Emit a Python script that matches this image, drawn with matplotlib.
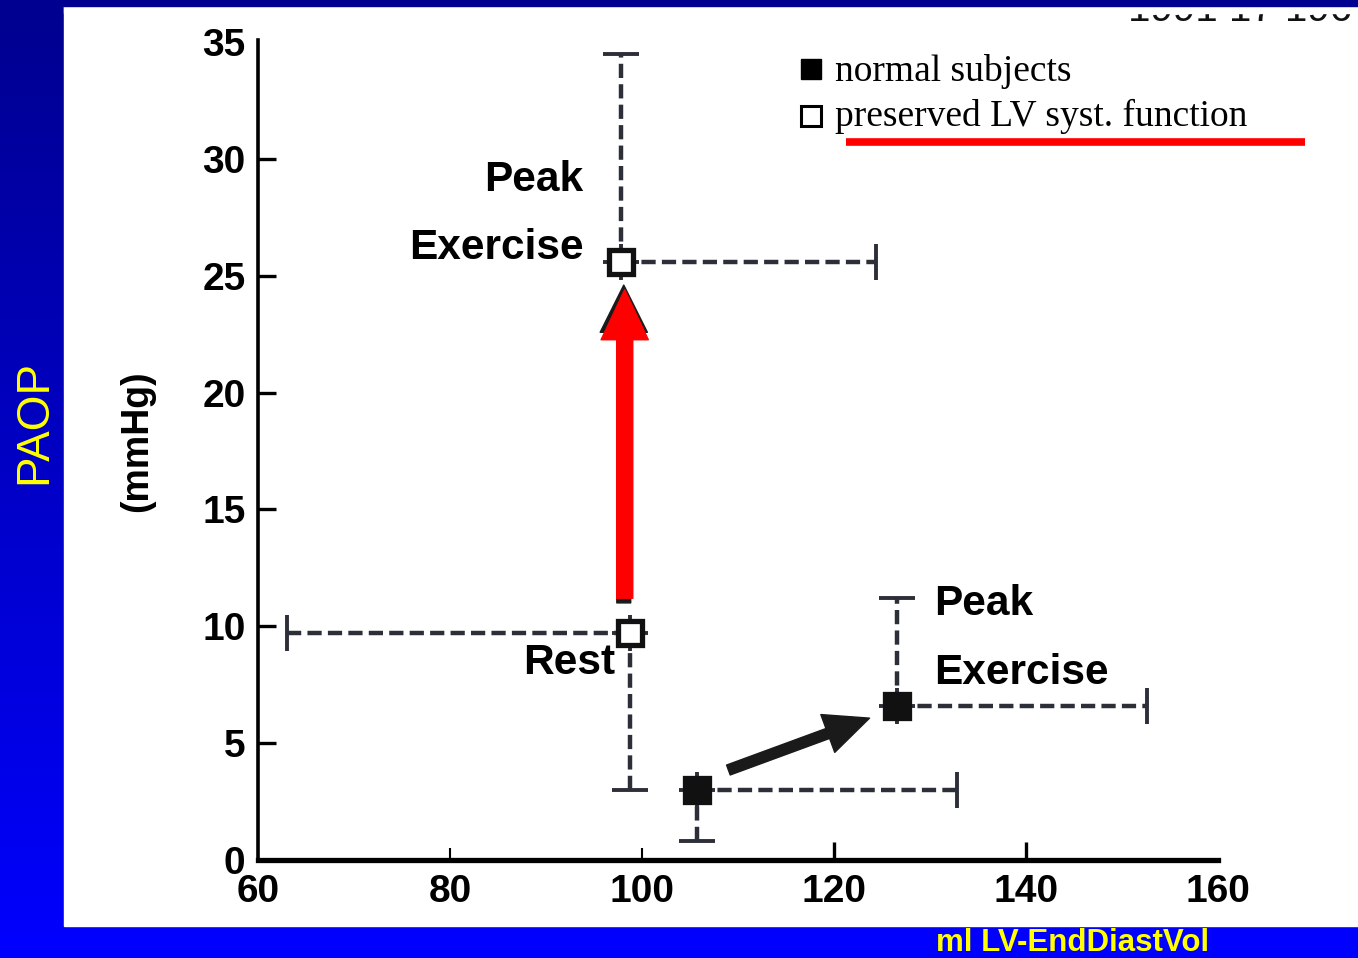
import numpy as np
import matplotlib.pyplot as plt
from matplotlib.patches import Rectangle, FancyArrowPatch

# LV end-diastolic volume (ml) vs PAOP (mmHg), rest and peak exercise
pres_x = [98.8, 97.8]
pres_y = [9.7, 25.6]
pres_xerr_lo = [35.8, 0.0]
pres_xerr_hi = [0.0, 26.6]
pres_yerr_lo = [6.7, 0.0]
pres_yerr_hi = [0.0, 8.9]

norm_x = [105.7, 126.6]
norm_y = [3.0, 6.6]
norm_xerr_lo = [0.0, 0.0]
norm_xerr_hi = [27.1, 26.0]
norm_yerr_lo = [2.2, 0.0]
norm_yerr_hi = [0.0, 4.6]

x_ticks = [60, 80, 100, 120, 140, 160]
y_ticks = [0, 5, 10, 15, 20, 25, 30, 35]

W, H = 1358, 958
fig = plt.figure(figsize=(W / 100, H / 100), dpi=100)

# slide background: dark-to-bright blue gradient with a white panel
bg = fig.add_axes([0, 0, 1, 1], zorder=-10)
grad = np.linspace(0, 1, 256)
cols = np.zeros((256, 1, 3))
cols[:, 0, 2] = 0.56 + 0.44 * grad
bg.imshow(cols, aspect='auto', extent=[0, W, H, 0])
bg.add_patch(Rectangle((64, 6), W - 64, 920, color='white'))
bg.set_xlim(0, W)
bg.set_ylim(H, 0)
bg.axis('off')

sans = ['Liberation Sans', 'DejaVu Sans']
serif = ['Liberation Serif', 'DejaVu Serif']

ax = fig.add_axes([258 / W, 1 - 860 / H, 960 / W, 818 / H])
ax.set_xlim(60, 160)
ax.set_ylim(0, 35)
ax.patch.set_alpha(0)
for s in ['top', 'right']:
    ax.spines[s].set_visible(False)
ax.spines['left'].set_linewidth(2.6)
ax.spines['bottom'].set_linewidth(3.8)
ax.spines['left'].set_bounds(0, 35.1)
ax.set_xticks(x_ticks)
ax.set_yticks(y_ticks)
ax.tick_params(direction='in', length=13, width=2.4, pad=9)
ax.tick_params(axis='x', pad=10)
for lbl in ax.get_xticklabels() + ax.get_yticklabels():
    lbl.set_fontfamily(sans)
    lbl.set_fontweight('bold')
    lbl.set_fontsize(28)
for t in [ax.xaxis.get_major_ticks()[0], ax.xaxis.get_major_ticks()[-1],
          ax.yaxis.get_major_ticks()[0], ax.yaxis.get_major_ticks()[-1]]:
    t.tick1line.set_visible(False)
# thinner marks at 80 and 100
for t in ax.xaxis.get_major_ticks()[1:3]:
    t.tick1line.set_markersize(9)
    t.tick1line.set_markeredgewidth(1.5)

bar_col = '#2c2f38'


def draw_group(x, y, xlo, xhi, ylo, yhi, face):
    eb = ax.errorbar(x, y, xerr=[xlo, xhi], yerr=[ylo, yhi], fmt='none',
                     ecolor=bar_col, elinewidth=3.2, capsize=13, capthick=2.8,
                     zorder=3)
    for c in eb[2]:
        c.set_linestyle((0, (3.2, 1.4)))
    ax.plot(x, y, 's', ms=17, mfc=face, mec='#111111', mew=3.8, zorder=5,
            clip_on=False)


draw_group(pres_x, pres_y, pres_xerr_lo, pres_xerr_hi, pres_yerr_lo, pres_yerr_hi, 'white')
draw_group(norm_x, norm_y, norm_xerr_lo, norm_xerr_hi, norm_yerr_lo, norm_yerr_hi, '#111111')

# arrows from rest to peak exercise
black_up = FancyArrowPatch((98.1, 11.0), (98.1, 24.6), arrowstyle='simple,head_length=1.7,head_width=1.7,tail_width=0.5',
                           mutation_scale=20, color='#1a1a1a', shrinkA=0, shrinkB=0, zorder=6)
ax.add_patch(black_up)
red_up = FancyArrowPatch((98.2, 11.2), (98.2, 24.4), arrowstyle='simple,head_length=1.8,head_width=1.7,tail_width=0.58',
                         mutation_scale=20, color='#ff0000', shrinkA=0, shrinkB=0, zorder=7)
ax.add_patch(red_up)
black_diag = FancyArrowPatch((109.0, 3.85), (123.7, 6.07), arrowstyle='simple,head_length=1.6,head_width=1.45,tail_width=0.38',
                             mutation_scale=20, color='#1a1a1a', shrinkA=0, shrinkB=0, zorder=6)
ax.add_patch(black_diag)

lab = dict(fontsize=30.5, fontweight='bold', family=sans, va='center')
ax.text(93.9, 29.1, 'Peak', ha='right', **lab)
ax.text(93.9, 26.2, 'Exercise', ha='right', **lab)
ax.text(97.2, 8.45, 'Rest', ha='right', **lab)
ax.text(130.4, 10.95, 'Peak', ha='left', **lab)
ax.text(130.4, 8.0, 'Exercise', ha='left', **lab)

# legend in figure pixel coordinates
ov = fig.add_axes([0, 0, 1, 1], zorder=10)
ov.set_xlim(0, W)
ov.set_ylim(H, 0)
ov.axis('off')
ov.plot([811], [69], 's', ms=15, mfc='black', mec='black', mew=1)
ov.plot([811], [116], 's', ms=14, mfc='white', mec='black', mew=2.2)
ov.text(835, 71, 'normal subjects', fontsize=27, family=serif, va='center')
ov.text(835, 116, 'preserved LV syst. function', fontsize=27, family=serif, va='center')
ov.plot([846, 1305], [142, 142], color='#ff0000', lw=5.5, solid_capstyle='butt')

# citation partly hidden under the top edge
ov.text(1128, 21, '1991 17 196', fontsize=29, family=sans, va='baseline', ha='left', color='#111111')
ov.add_patch(Rectangle((64, 5), W - 64, 8, color='white', zorder=20))
ov.add_patch(Rectangle((0, 0), W, 6, color='#000090', zorder=21))

ov.text(34, 422, 'PAOP', fontsize=33, family=sans, color='#ffff00', rotation=90,
        ha='center', va='center')
ov.text(137, 441, '(mmHg)', fontsize=27, fontweight='bold', family=sans, rotation=90,
        ha='center', va='center')
ov.text(1073, 943, 'ml LV-EndDiastVol', fontsize=22.5, fontweight='bold', family=sans,
        color='#ffff00', ha='center', va='center')

fig.savefig('out.png', dpi=100)
